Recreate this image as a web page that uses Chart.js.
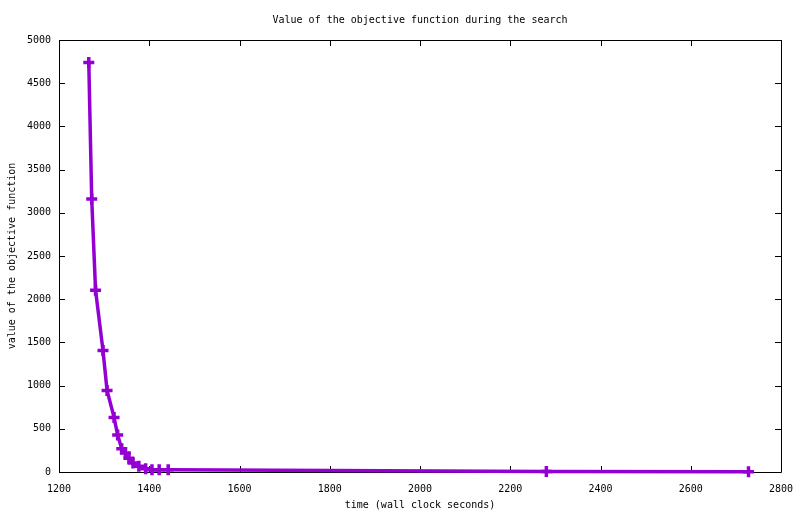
<!DOCTYPE html>
<html>
<head>
<meta charset="utf-8">
<script src="https://cdn.jsdelivr.net/npm/chart.js@4"></script>
<style>
  html, body { margin: 0; padding: 0; background: #fff; }
  #wrap { width: 800px; height: 514px; }
</style>
</head>
<body>
<div id="wrap"><canvas id="myChart"></canvas></div>
<script>
// wall clock time (s) and objective value
var timeSec = [1266, 1272.5, 1281, 1297.5, 1306.5, 1322, 1330, 1339, 1347, 1355, 1364, 1377, 1392, 1406, 1422, 1442, 2280, 2728];
var objValue = [4740, 3160, 2105, 1405, 944, 632, 428, 270, 219, 160, 105, 67, 38, 27, 26, 25, 5, 3];
var xTicks = [1200, 1400, 1600, 1800, 2000, 2200, 2400, 2600, 2800];
var yTicks = [0, 500, 1000, 1500, 2000, 2500, 3000, 3500, 4000, 4500, 5000];

var FONT = "'DejaVu Sans Mono', 'Liberation Mono', monospace";
Chart.defaults.font.family = FONT;
Chart.defaults.font.size = 10;
Chart.defaults.color = '#000';

var points = timeSec.map(function(t, i) { return { x: t, y: objValue[i] }; });

// gnuplot-like frame with inward ticks on all four sides
var framePlugin = {
  id: 'frame',
  beforeDatasetsDraw: function(chart) {
    var c = chart.ctx, a = chart.chartArea;
    var xs = chart.scales.x, ys = chart.scales.y;
    var len = 6;
    c.save();
    c.strokeStyle = '#000';
    c.lineWidth = 1;
    c.beginPath();
    c.rect(Math.round(a.left) + 0.5, Math.round(a.top) + 0.5,
           Math.round(a.right - a.left), Math.round(a.bottom - a.top));
    xTicks.forEach(function(v) {
      var px = Math.round(xs.getPixelForValue(v)) + 0.5;
      c.moveTo(px, a.bottom); c.lineTo(px, a.bottom - len);
      c.moveTo(px, a.top); c.lineTo(px, a.top + len);
    });
    yTicks.forEach(function(v) {
      var py = Math.round(ys.getPixelForValue(v)) + 0.5;
      c.moveTo(a.left, py); c.lineTo(a.left + len, py);
      c.moveTo(a.right, py); c.lineTo(a.right - len, py);
    });
    c.stroke();
    c.restore();
  }
};

function plain(v) { return String(v); }

var ctx = document.getElementById('myChart');
var myChart = new Chart(ctx, {
  type: 'line',
  data: {
    datasets: [{
      label: 'objective',
      data: points,
      borderColor: '#9400D3',
      backgroundColor: '#9400D3',
      borderWidth: 3.5,
      lineTension: 0,
      fill: false,
      pointStyle: 'cross',
      pointRadius: 5.5,
      pointBorderWidth: 3.5,
      pointBorderColor: '#9400D3',
      clip: false
    }]
  },
  options: {
    responsive: true,
    maintainAspectRatio: false,
    animation: false,
    layout: { padding: { left: 6, right: 19, top: 0, bottom: 3 } },
    plugins: {
      legend: { display: false },
      tooltip: { enabled: false },
      title: {
        display: true,
        fullSize: false,
        text: 'Value of the objective function during the search',
        font: { family: FONT, size: 10, weight: 'normal' },
        color: '#000',
        padding: { top: 14, bottom: 14 }
      }
    },
    scales: {
      x: {
        type: 'linear',
        min: 1200,
        max: 2800,
        afterBuildTicks: function(s) { s.ticks = xTicks.map(function(v) { return { value: v }; }); },
        afterFit: function(s) { s.height = 39; s.paddingRight = 0; s.paddingLeft = 0; },
        grid: { display: false, drawTicks: false },
        border: { display: false },
        ticks: { padding: 11, maxRotation: 0, autoSkip: false, callback: plain },
        title: { display: true, text: 'time (wall clock seconds)', padding: 0 }
      },
      y: {
        min: 0,
        max: 5000,
        afterBuildTicks: function(s) { s.ticks = yTicks.map(function(v) { return { value: v }; }); },
        afterFit: function(s) { s.width = 53; },
        grid: { display: false, drawTicks: false },
        border: { display: false },
        ticks: { padding: 8, callback: plain },
        title: { display: true, text: 'value of the objective function', padding: 0 }
      }
    }
  },
  plugins: [framePlugin]
});
</script>
</body>
</html>
